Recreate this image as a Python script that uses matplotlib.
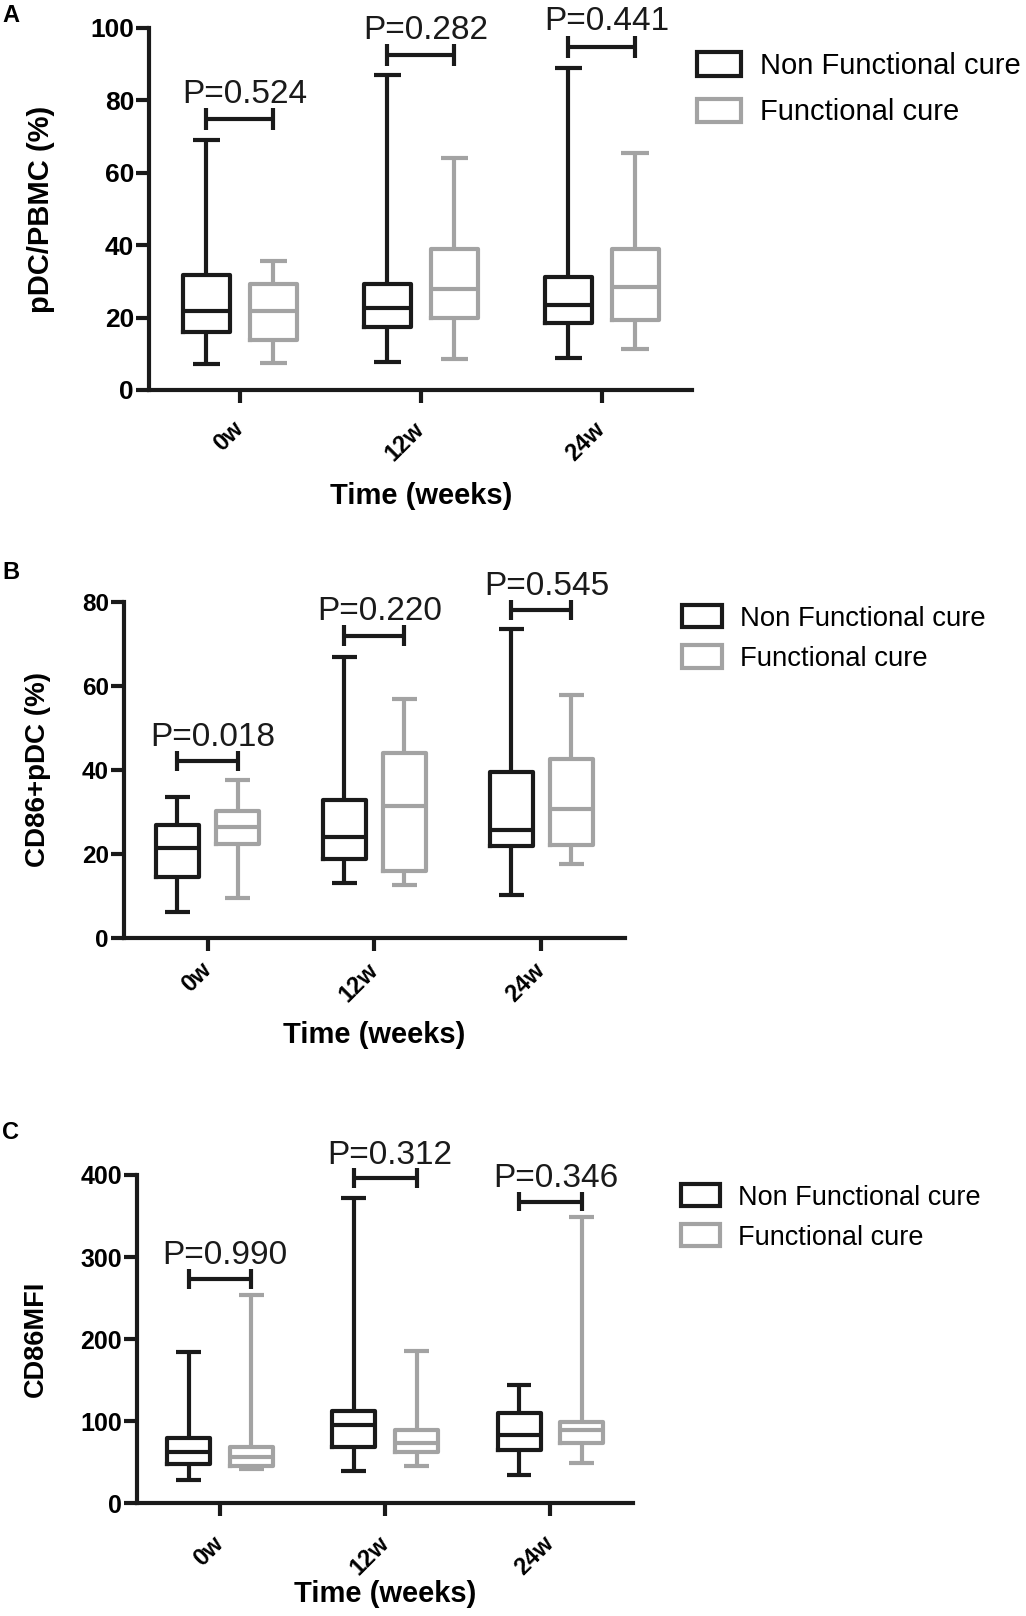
import matplotlib
matplotlib.use('Agg')
import matplotlib.pyplot as plt
from matplotlib.patches import Patch

plt.rcParams['font.family'] = ['Liberation Sans', 'DejaVu Sans']

# Time points
categories = ['0w', '12w', '24w']
legend_labels = ['Non Functional cure', 'Functional cure']

# Panel A: pDC/PBMC (%)  -> whisker low, Q1, median, Q3, whisker high
a_nf_lo = [7.2, 7.6, 8.7]
a_nf_q1 = [16.1, 17.3, 18.4]
a_nf_med = [21.9, 22.6, 23.5]
a_nf_q3 = [31.8, 29.3, 31.1]
a_nf_hi = [69.1, 87.0, 89.0]
a_f_lo = [7.4, 8.6, 11.2]
a_f_q1 = [13.8, 19.8, 19.3]
a_f_med = [21.9, 27.8, 28.4]
a_f_q3 = [29.3, 38.9, 38.9]
a_f_hi = [35.5, 64.0, 65.4]
a_pvals = ['P=0.524', 'P=0.282', 'P=0.441']
a_pbar = [74.8, 92.5, 94.8]

# Panel B: CD86+pDC (%)
b_nf_lo = [6.1, 13.1, 10.2]
b_nf_q1 = [14.5, 18.8, 22.0]
b_nf_med = [21.4, 24.0, 25.8]
b_nf_q3 = [27.0, 32.8, 39.5]
b_nf_hi = [33.5, 66.8, 73.6]
b_f_lo = [9.5, 12.5, 17.6]
b_f_q1 = [22.4, 15.9, 22.2]
b_f_med = [26.4, 31.5, 30.8]
b_f_q3 = [30.3, 44.0, 42.7]
b_f_hi = [37.5, 56.9, 57.8]
b_pvals = ['P=0.018', 'P=0.220', 'P=0.545']
b_pbar = [42.1, 72.0, 78.0]

# Panel C: CD86 MFI
c_nf_lo = [28.4, 39.4, 34.5]
c_nf_q1 = [47.5, 68.2, 64.2]
c_nf_med = [61.7, 95.4, 83.2]
c_nf_q3 = [79.2, 111.7, 109.6]
c_nf_hi = [183.6, 372.4, 143.4]
c_f_lo = [41.4, 45.5, 48.7]
c_f_q1 = [45.5, 61.7, 73.1]
c_f_med = [55.6, 73.1, 88.5]
c_f_q3 = [68.2, 88.5, 98.3]
c_f_hi = [253.8, 185.6, 349.2]
c_pvals = ['P=0.990', 'P=0.312', 'P=0.346']
c_pbar = [272.9, 396.0, 367.5]

BLACK = '#1a1a1a'
GREY = '#a3a3a3'
LW = 3.0


def stats(lo, q1, med, q3, hi):
    return [dict(whislo=lo[i], q1=q1[i], med=med[i], q3=q3[i], whishi=hi[i], fliers=[])
            for i in range(len(lo))]


def draw_boxes(ax, st, positions, color):
    props = dict(color=color, linewidth=LW, solid_capstyle='butt')
    ax.bxp(st, positions=positions, widths=0.26, capwidths=0.15,
           showfliers=False, manage_ticks=False,
           boxprops=dict(color=color, linewidth=LW),
           medianprops=props, whiskerprops=props, capprops=props)


def panel(ax, nf, f, pvals, pbar, ymax, ystep, ylabel, off, fonts, pads, leg_pos, leg):
    ylab_size, tick_size = fonts
    ylab_x, xtick_pad, xlab_pad = pads
    xs = list(range(len(categories)))
    draw_boxes(ax, stats(*nf), [x - off for x in xs], BLACK)
    draw_boxes(ax, stats(*f), [x + off for x in xs], GREY)

    # significance brackets
    tick_h = 0.03 * ymax
    for x, p, yb in zip(xs, pvals, pbar):
        ax.plot([x - off, x + off], [yb, yb], color=BLACK, lw=LW,
                solid_capstyle='butt', clip_on=False)
        for xe in (x - off, x + off):
            ax.plot([xe, xe], [yb - tick_h, yb + tick_h], color=BLACK, lw=LW,
                    solid_capstyle='butt', clip_on=False)
        ax.text(x + 0.03, yb + 0.045 * ymax, p, ha='center', va='baseline',
                fontsize=24, color=BLACK, clip_on=False)

    ax.set_xlim(-0.5, 2.5)
    ax.set_ylim(0, ymax)
    ax.set_yticks(range(0, ymax + 1, ystep))
    ax.set_xticks(xs)
    ax.set_xticklabels(categories, rotation=45, ha='right', va='center',
                       rotation_mode='anchor', fontsize=17, fontweight='bold')
    for lab in ax.get_yticklabels():
        lab.set_fontsize(tick_size)
        lab.set_fontweight('bold')
    ax.spines['top'].set_visible(False)
    ax.spines['right'].set_visible(False)
    for side in ('left', 'bottom'):
        ax.spines[side].set_linewidth(LW)
        ax.spines[side].set_color(BLACK)
    ax.tick_params(axis='both', width=LW, length=9.5, color=BLACK, pad=1.5)
    ax.tick_params(axis='x', pad=xtick_pad)
    ax.set_ylabel(ylabel, fontsize=ylab_size, fontweight='bold')
    ax.yaxis.set_label_coords(ylab_x, 0.5)
    ax.set_xlabel('Time (weeks)', fontsize=21, fontweight='bold', labelpad=xlab_pad)

    fs, hl, hh, ls = leg
    handles = [Patch(facecolor='white', edgecolor=BLACK, linewidth=LW),
               Patch(facecolor='white', edgecolor=GREY, linewidth=LW)]
    ax.legend(handles, legend_labels, loc='center left', bbox_to_anchor=leg_pos,
              bbox_transform=ax.figure.transFigure, frameon=False,
              fontsize=fs, handlelength=hl, handleheight=hh,
              handletextpad=0.65, labelspacing=ls, borderpad=0, borderaxespad=0)


fig = plt.figure(figsize=(10.26, 16.16), dpi=100)
ax_a = fig.add_axes([0.1456, 0.7587, 0.6745 - 0.1456, 0.9827 - 0.7587])
ax_b = fig.add_axes([0.1209, 0.4196, 0.609 - 0.1209, 0.6275 - 0.4196])
ax_c = fig.add_axes([0.134, 0.0699, 0.617 - 0.134, 0.2729 - 0.0699])

panel(ax_a, (a_nf_lo, a_nf_q1, a_nf_med, a_nf_q3, a_nf_hi),
      (a_f_lo, a_f_q1, a_f_med, a_f_q3, a_f_hi), a_pvals, a_pbar,
      100, 20, 'pDC/PBMC (%)', 0.185, (21, 19), (-0.174, 16, 12),
      (0.6793, 0.9448), (21, 1.5, 0.86, 0.63))
panel(ax_b, (b_nf_lo, b_nf_q1, b_nf_med, b_nf_q3, b_nf_hi),
      (b_f_lo, b_f_q1, b_f_med, b_f_q3, b_f_hi), b_pvals, b_pbar,
      80, 20, 'CD86+pDC (%)', 0.18, (20, 17.5), (-0.146, 11, 11),
      (0.6647, 0.6049), (19.8, 1.45, 0.87, 0.49))
panel(ax_c, (c_nf_lo, c_nf_q1, c_nf_med, c_nf_q3, c_nf_hi),
      (c_f_lo, c_f_q1, c_f_med, c_f_q3, c_f_hi), c_pvals, c_pbar,
      400, 100, 'CD86MFI', 0.19, (19.5, 18), (-0.179, 17, 0),
      (0.6637, 0.2466), (19.5, 1.45, 0.85, 0.51))

for letter, y in (('A', 0.9975), ('B', 0.6528), ('C', 0.3063)):
    fig.text(0.002, y, letter, fontsize=17, fontweight='bold', va='top', ha='left')

fig.savefig('out.png', dpi=100)
